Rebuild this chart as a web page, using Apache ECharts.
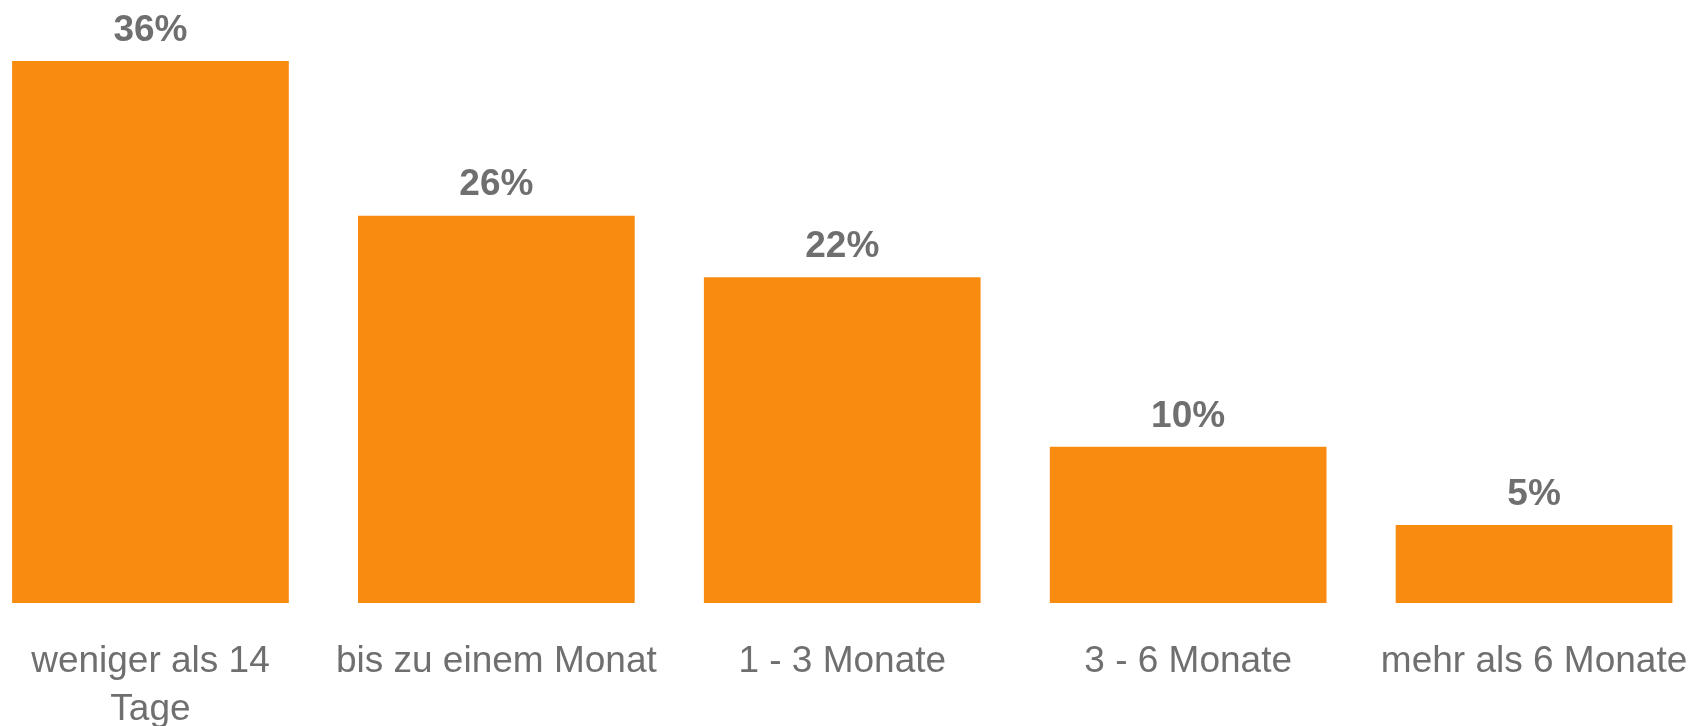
<!DOCTYPE html>
<html>
<head>
<meta charset="utf-8">
<style>
html,body{margin:0;padding:0;background:#fff;}
#chart{width:1702px;height:726px;}
</style>
<script src="https://cdn.jsdelivr.net/npm/echarts@6/dist/echarts.min.js"></script>
</head>
<body>
<div id="chart"></div>
<script>
const categories = ["weniger als 14\nTage", "bis zu einem Monat", "1 - 3 Monate", "3 - 6 Monate", "mehr als 6 Monate"];
const values = [36.1, 25.8, 21.7, 10.4, 5.2];
const valueLabelSuffix = "%";

const chart = echarts.init(document.getElementById('chart'), null, {renderer: 'canvas'});
chart.setOption({
  animation: false,
  backgroundColor: '#ffffff',
  grid: {left: -22.5, right: -5, top: 61, bottom: 123, containLabel: false, outerBoundsMode: 'none'},
  xAxis: {
    type: 'category',
    data: categories,
    axisLine: {show: false},
    axisTick: {show: false},
    axisLabel: {
      interval: 0,
      color: '#6f6f6f',
      fontFamily: 'Liberation Sans, Arial, sans-serif',
      fontSize: 37,
      lineHeight: 48,
      margin: 35,
      hideOverlap: false
    }
  },
  yAxis: {
    type: 'value',
    min: 0,
    max: 36.1,
    show: false,
    splitLine: {show: false}
  },
  series: [{
    type: 'bar',
    data: values,
    barCategoryGap: '20%',
    itemStyle: {color: '#F98C10'},
    label: {
      show: true,
      position: 'top',
      distance: 12,
      formatter: p => Math.round(p.value) + valueLabelSuffix,
      color: '#6f6f6f',
      fontFamily: 'Liberation Sans, Arial, sans-serif',
      fontWeight: 'bold',
      fontSize: 37
    }
  }]
});
</script>
</body>
</html>
